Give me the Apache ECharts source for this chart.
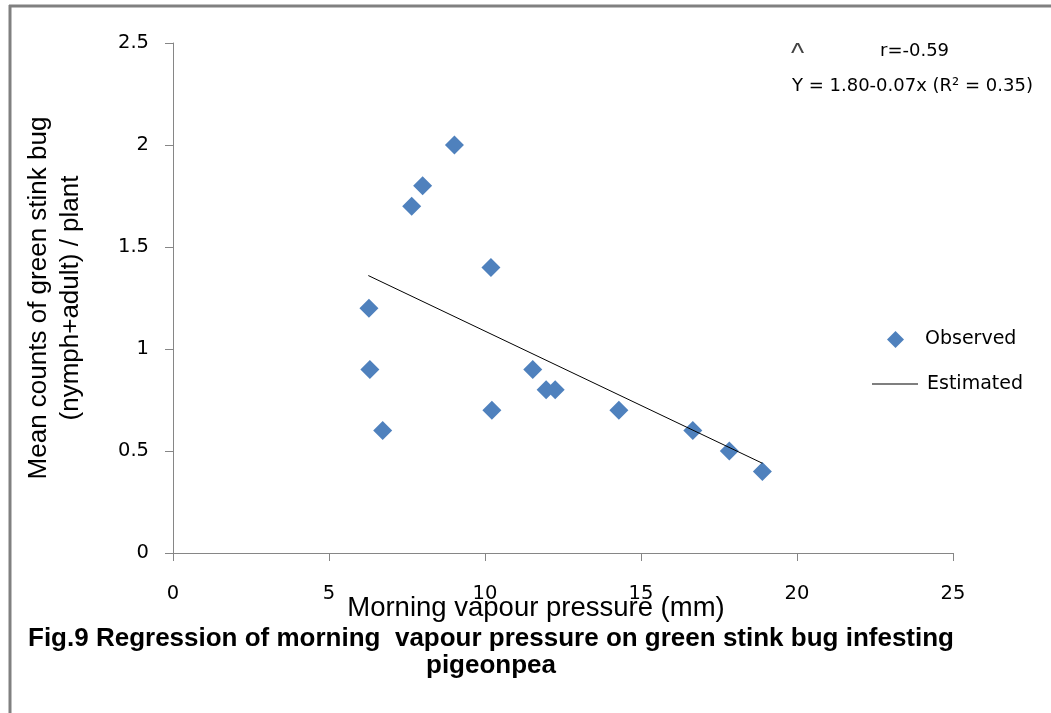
<!DOCTYPE html>
<html>
<head>
<meta charset="utf-8">
<script src="https://cdn.jsdelivr.net/npm/echarts@6/dist/echarts.min.js"></script>
<style>html,body{margin:0;padding:0;background:#fff;}#c{width:1051px;height:713px;}</style>
</head>
<body>
<div id="c"></div>
<script>
// Observed points (morning vapour pressure mm, mean counts / plant)
var observedX = [9.02, 8.00, 7.65, 10.19, 6.28, 6.31, 6.72, 10.22, 11.53, 11.96, 12.25, 14.29, 16.66, 17.83, 18.89];
var observedY = [2.0, 1.8, 1.7, 1.4, 1.2, 0.9, 0.6, 0.7, 0.9, 0.8, 0.8, 0.7, 0.6, 0.5, 0.4];
// Estimated regression line end points
var estimatedX = [6.26, 18.89];
var estimatedY = [1.36, 0.44];
var xTicks = [0, 5, 10, 15, 20, 25];
var yTicks = [0, 0.5, 1, 1.5, 2, 2.5];

var chart = echarts.init(document.getElementById('c'));
var axisGrey = '#868686';
var sans = '"DejaVu Sans", sans-serif';
var arial = '"Liberation Sans", Arial, sans-serif';

chart.setOption({
  animation: false,
  backgroundColor: '#ffffff',
  grid: { left: 173, right: 98, top: 43, bottom: 160 },
  title: {
    text: 'Fig.9 Regression of morning  vapour pressure on green stink bug infesting\npigeonpea',
    left: 491, top: 625, textAlign: 'center', padding: 0,
    textStyle: { fontFamily: arial, fontSize: 26, fontWeight: 'bold', color: '#000', lineHeight: 27 }
  },
  legend: [
    { data: ['Observed'], left: 887, top: 330, padding: 0, icon: 'diamond', itemWidth: 17, itemHeight: 17,
      textStyle: { fontFamily: sans, fontSize: 19, color: '#000', padding: [0,0,0,16] } },
    { data: [{ name: 'Estimated', icon: 'rect' }], left: 872, top: 374.5, padding: 0, itemWidth: 46, itemHeight: 1,
      textStyle: { fontFamily: sans, fontSize: 19, color: '#000', padding: [0,0,0,4] } }
  ],
  xAxis: {
    type: 'value', min: 0, max: 25, interval: 5,
    name: 'Morning vapour pressure (mm)', nameLocation: 'middle', nameGap: 41, nameMoveOverlap: false,
    nameTextStyle: { fontFamily: arial, fontSize: 27.5, color: '#000', padding: [0, 54, 0, 0] },
    axisLine: { show: true, lineStyle: { color: axisGrey, width: 1 } },
    axisTick: { show: true, length: 8, lineStyle: { color: axisGrey } },
    axisLabel: { margin: 31, fontFamily: sans, fontSize: 19.5, color: '#000' },
    splitLine: { show: false }
  },
  yAxis: {
    type: 'value', min: 0, max: 2.5, interval: 0.5,
    name: 'Mean counts of green stink bug\n(nymph+adult) / plant', nameLocation: 'middle', nameGap: 86,
    nameTextStyle: { fontFamily: arial, fontSize: 26, color: '#000', lineHeight: 32 },
    axisLine: { show: true, lineStyle: { color: axisGrey, width: 1 } },
    axisTick: { show: true, length: 8, lineStyle: { color: axisGrey } },
    axisLabel: { margin: 24, fontFamily: sans, fontSize: 19.5, color: '#000',
      formatter: function (v) { return String(v); } },
    splitLine: { show: false }
  },
  series: [
    {
      name: 'Observed', type: 'scatter', symbol: 'diamond', symbolSize: 19,
      itemStyle: { color: '#4f81bd', opacity: 1 },
      data: observedX.map(function (x, i) { return [x, observedY[i]]; }),
      z: 3
    },
    {
      name: 'Estimated', type: 'line', symbol: 'none',
      itemStyle: { color: '#000' },
      lineStyle: { color: '#000', width: 1 },
      data: estimatedX.map(function (x, i) { return [x, estimatedY[i]]; }),
      z: 4
    }
  ],
  graphic: [
    { type: 'line', shape: { x1: 10, y1: 5, x2: 10, y2: 713 }, style: { stroke: '#808080', lineWidth: 3 } },
    { type: 'line', shape: { x1: 9, y1: 6, x2: 1051, y2: 6 }, style: { stroke: '#808080', lineWidth: 3 } },
    { type: 'text', left: 791, top: 40, style: { text: '^', font: '28px ' + arial, fill: '#444' } },
    { type: 'text', left: 880, top: 42, style: { text: 'r=-0.59', font: '18px ' + sans, fill: '#000' } },
    { type: 'text', left: 792, top: 77, style: { text: 'Y = 1.80-0.07x (R\u00b2 = 0.35)', font: '18px ' + sans, fill: '#000' } }
  ]
});
</script>
</body>
</html>
